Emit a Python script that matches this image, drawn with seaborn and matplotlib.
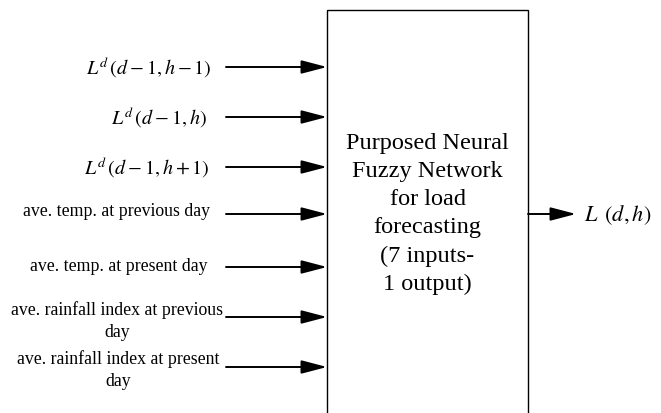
import numpy as np
import matplotlib
matplotlib.use("Agg")
import matplotlib.pyplot as plt
import seaborn as sns
from matplotlib.patches import Rectangle

# =====================================================
# DATA
# =====================================================

input_labels = [
    r"$L^{d}\,(d-1,h-1)$",
    r"$L^{d}\,(d-1,h)$",
    r"$L^{d}\,(d-1,h+1)$",
    "ave. temp. at previous day",
    "ave. temp. at present day",
    "ave. rainfall index at previous\nday",
    "ave. rainfall index at present\nday",
]

input_y = [68, 118, 168, 215, 268, 318, 368]
label_y = [68, 118, 168, 212, 267, 321, 370]
label_x = [212, 207, 210, 210, 207, 117, 118]

block_text = "Purposed Neural\nFuzzy Network\nfor load\nforecasting\n(7 inputs-\n1 output)"
output_label = r"$L\ \,(d,h)$"

# =====================================================
# STYLE
# =====================================================

sns.set_theme(style="white")
plt.rcParams["font.family"] = ["Liberation Serif", "DejaVu Serif"]
plt.rcParams["mathtext.fontset"] = "stix"
plt.rcParams["text.color"] = "black"

W, H = 661, 414

fig = plt.figure(figsize=(W / 100, H / 100), dpi=100)
ax = fig.add_axes([0, 0, 1, 1])
ax.set_xlim(0, W)
ax.set_ylim(H, 0)
ax.axis("off")

# =====================================================
# BLOCK
# =====================================================

box_left, box_right, box_top = 327, 528, 11

ax.add_patch(
    Rectangle(
        (box_left, box_top),
        box_right - box_left,
        H + 10 - box_top,
        fill=False,
        edgecolor="black",
        linewidth=1.0,
    )
)

ax.text(
    (box_left + box_right) / 2,
    214,
    block_text,
    ha="center",
    va="center",
    fontsize=17.5,
    linespacing=1.45,
    color="black",
)

# =====================================================
# INPUT ARROWS
# =====================================================

arrow_props = dict(
    arrowstyle="-|>,head_length=1.3,head_width=0.34",
    color="black",
    linewidth=1.4,
    shrinkA=0,
    shrinkB=0,
)

for i, (lab, y) in enumerate(zip(input_labels, input_y)):
    ax.annotate(
        "",
        xy=(box_left, y),
        xytext=(226, y),
        arrowprops=arrow_props,
    )
    if lab.startswith("$"):
        ax.text(label_x[i], label_y[i], lab, ha="right", va="center", fontsize=14.5)
    elif "\n" in lab:
        ax.text(label_x[i], label_y[i], lab, ha="center", va="center",
                fontsize=12.8, linespacing=1.35, multialignment="center")
    else:
        ax.text(label_x[i], label_y[i], lab, ha="right", va="center", fontsize=12.8)

# =====================================================
# OUTPUT
# =====================================================

ax.annotate(
    "",
    xy=(576, 215),
    xytext=(box_right, 215),
    arrowprops=arrow_props,
)

ax.text(584, 215, output_label, ha="left", va="center", fontsize=16)

plt.savefig("out.png", dpi=100)
plt.close()
